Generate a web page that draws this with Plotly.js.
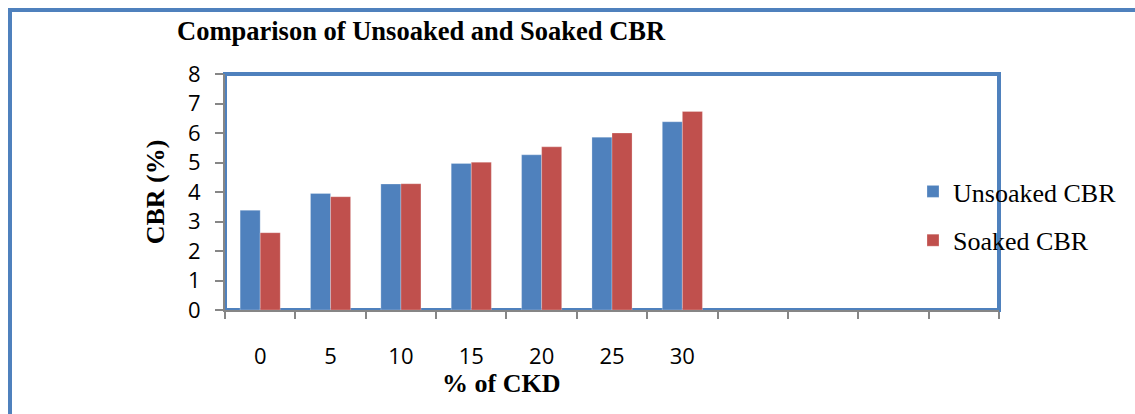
<!DOCTYPE html>
<html>
<head>
<meta charset="utf-8">
<script src="https://cdn.plot.ly/plotly-3.0.1.min.js"></script>
<style>html,body{margin:0;padding:0;background:#fff;}#chart{width:1135px;height:414px;}</style>
</head>
<body>
<div id="chart"></div>
<script>
// Data
const categories = ['0', '5', '10', '15', '20', '25', '30', 'e1', 'e2', 'e3', 'e4'];
const tickLabels = ['0', '5', '10', '15', '20', '25', '30', '', '', '', ''];
const dataCategories = ['0', '5', '10', '15', '20', '25', '30'];
const unsoakedCBR = [3.38, 3.95, 4.27, 4.97, 5.26, 5.86, 6.38];
const soakedCBR = [2.62, 3.84, 4.28, 5.01, 5.53, 6.00, 6.73];
const xAxisTitle = '% of CKD';
const yAxisTitle = 'CBR (%)';
const chartTitle = 'Comparison of Unsoaked and Soaked CBR';

const blue = '#4F81BD';
const red = '#C0504D';
const gray = '#868686';
const serif = 'Liberation Serif, Times New Roman, serif';
const sans = 'Open Sans, Noto Sans, sans-serif';

const traces = [
  {type: 'bar', name: 'Unsoaked CBR', x: dataCategories, y: unsoakedCBR,
   marker: {color: blue, line: {color: 'rgba(255,255,255,0.5)', width: 0.5}}, legendgroup: 'a'},
  {type: 'bar', name: 'Soaked CBR', x: dataCategories, y: soakedCBR,
   marker: {color: red, line: {color: 'rgba(255,255,255,0.5)', width: 0.5}}, legendgroup: 'b'}
];

const L = 225, R = 999, T = 74, B = 310;
const W = R - L, H = B - T;
const px = v => (v - L) / W;
const py = v => (B - v) / H;

const layout = {
  width: 1135, height: 414,
  margin: {l: L, r: 1135 - R, t: T, b: 414 - B, pad: 0},
  paper_bgcolor: '#fff', plot_bgcolor: '#fff',
  showlegend: true,
  barmode: 'group',
  bargap: 0.43,
  bargroupgap: 0,
  title: {
    text: chartTitle,
    font: {family: serif, size: 26.5, color: '#000', weight: 'bold'},
    x: 177 / 1135, xanchor: 'left', xref: 'container',
    y: 1 - 31 / 414, yanchor: 'middle', yref: 'container'
  },
  xaxis: {
    type: 'category',
    categoryorder: 'array', categoryarray: categories,
    tickmode: 'array', tickvals: categories, ticktext: tickLabels,
    tickson: 'boundaries',
    range: [-0.5, 10.5],
    ticks: 'outside', ticklen: 7, tickwidth: 2, tickcolor: gray,
    ticklabelstandoff: 26,
    tickfont: {family: sans, size: 22, color: '#000'},
    showline: true, linecolor: gray, linewidth: 2,
    showgrid: false, zeroline: false,
    automargin: false,
    fixedrange: true
  },
  yaxis: {
    range: [0, 8], dtick: 1, tick0: 0,
    ticks: 'outside', ticklen: 8, tickwidth: 2, tickcolor: gray,
    ticklabelstandoff: 10,
    tickfont: {family: sans, size: 22, color: '#000'},
    showline: true, linecolor: gray, linewidth: 2,
    showgrid: false, zeroline: false,
    title: {text: yAxisTitle, standoff: 16,
      font: {family: serif, size: 26, color: '#000', weight: 'bold'}},
    automargin: false,
    fixedrange: true
  },
  annotations: [
    {text: xAxisTitle, showarrow: false, xref: 'paper', yref: 'paper',
     x: px(501), xanchor: 'center', y: py(383), yanchor: 'middle',
     font: {family: serif, size: 26, color: '#000', weight: 'bold'}}
  ],
  legend: {
    x: px(913), xanchor: 'left', y: py(168), yanchor: 'top',
    bgcolor: 'rgba(0,0,0,0)', borderwidth: 0,
    font: {family: serif, size: 26, color: '#000'},
    traceorder: 'grouped', tracegroupgap: 12,
    itemwidth: 30
  },
  shapes: [
    {type: 'rect', xref: 'paper', yref: 'paper', x0: 0, x1: 1, y0: 0, y1: 1,
     line: {color: blue, width: 4}, layer: 'below'},
    {type: 'rect', xref: 'paper', yref: 'paper', x0: px(10), x1: px(1160), y0: py(10), y1: py(440),
     line: {color: blue, width: 4}, layer: 'above'}
  ]
};

Plotly.newPlot('chart', traces, layout, {displayModeBar: false, staticPlot: true});
</script>
</body>
</html>
